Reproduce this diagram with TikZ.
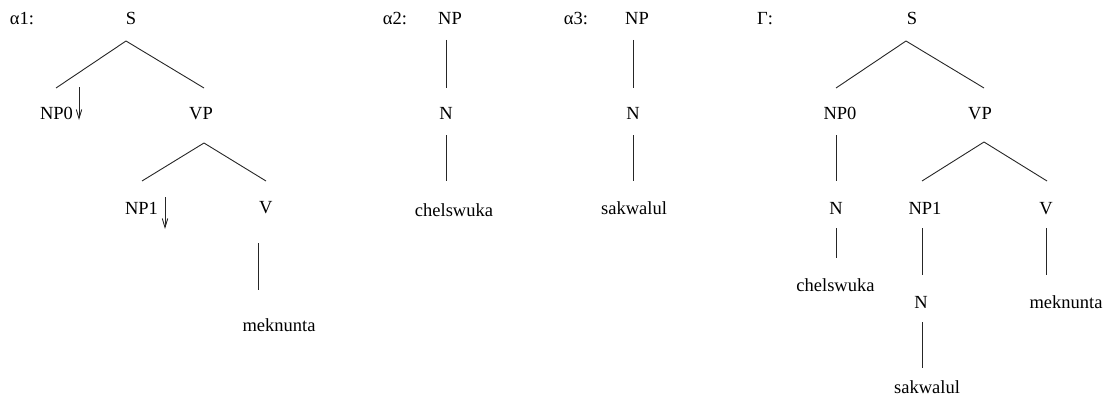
\documentclass[tikz,border=0pt]{standalone}
\usepackage{fontspec}
\setmainfont{Liberation Serif}
\usetikzlibrary{calc,arrows.meta}
\begin{document}
\begin{tikzpicture}[x=1pt,y=-1pt,
  lbl/.style={inner sep=0pt,text height=12pt,text depth=0pt,anchor=center,font=\fontsize{18.5}{20}\selectfont},
  br/.style={line width=0.9pt,draw=black!85},
  subst/.style={line width=0.9pt,draw=black!85,-{Straight Barb[length=9pt,width=5.5pt]}}]
\useasboundingbox (0,0) rectangle (1107,404);
% alpha1
\node[lbl] (a1l) at (22,19) {α1:};
\node[lbl] (S1) at (131,19) {S};
\node[lbl] (NP0a) at (56.5,113) {NP0};
\node[lbl] (VPa) at (201,113) {VP};
\node[lbl] (NP1a) at (141.5,208) {NP1};
\node[lbl] (Va) at (265.7,207) {V};
\node[lbl] (mek1) at (279,325) {meknunta};
\draw[br] ($(S1)+(126-131,41-19)$) -- ($(NP0a)+(56-56.5,88-113)$);
\draw[br] ($(S1)+(126-131,41-19)$) -- ($(VPa)+(204-201,88-113)$);
\draw[br] ($(VPa)+(204-201,143-113)$) -- ($(NP1a)+(142-141.5,181-208)$);
\draw[br] ($(VPa)+(204-201,143-113)$) -- ($(Va)+(266-265.7,181-207)$);
\draw[br] ($(Va)+(258.7-265.7,243-207)$) -- ($(mek1)+(258.7-279,290-325)$);
\draw[subst] ($(NP0a)+(79-56.5,87-113)$) -- ($(NP0a)+(79-56.5,120-113)$);
\draw[subst] ($(NP1a)+(165-141.5,197-208)$) -- ($(NP1a)+(165-141.5,229-208)$);
% alpha2
\node[lbl] (a2l) at (395,19) {α2:};
\node[lbl] (NP2) at (450,19) {NP};
\node[lbl] (N2) at (446,113) {N};
\node[lbl] (chel1) at (454,210) {chelswuka};
\draw[br] ($(NP2)+(446-450,40-19)$) -- ($(N2)+(0,88-113)$);
\draw[br] ($(N2)+(0,135-113)$) -- ($(chel1)+(446-454,181-210)$);
% alpha3
\node[lbl] (a3l) at (576,19) {α3:};
\node[lbl] (NP3) at (637,19) {NP};
\node[lbl] (N3) at (633,113) {N};
\node[lbl] (sak1) at (634,208) {sakwalul};
\draw[br] ($(NP3)+(633-637,40-19)$) -- ($(N3)+(0,88-113)$);
\draw[br] ($(N3)+(0,135-113)$) -- ($(sak1)+(633-634,181-208)$);
% Gamma
\node[lbl] (Gl) at (765,19) {Γ:};
\node[lbl] (S2) at (912,19) {S};
\node[lbl] (NP0b) at (840,113) {NP0};
\node[lbl] (VPb) at (980,113) {VP};
\node[lbl] (Nb1) at (836,208) {N};
\node[lbl] (chel2) at (835.5,285) {chelswuka};
\node[lbl] (NP1b) at (925,208) {NP1};
\node[lbl] (Vb) at (1046,208) {V};
\node[lbl] (Nb2) at (921,302) {N};
\node[lbl] (mek2) at (1066,302) {meknunta};
\node[lbl] (sak2) at (927,387) {sakwalul};
\draw[br] ($(S2)+(906-912,41-19)$) -- ($(NP0b)+(836-840,88-113)$);
\draw[br] ($(S2)+(906-912,41-19)$) -- ($(VPb)+(984-980,88-113)$);
\draw[br] ($(NP0b)+(836-840,135-113)$) -- ($(Nb1)+(0,181-208)$);
\draw[br] ($(Nb1)+(0,228-208)$) -- ($(chel2)+(836-835.5,258-285)$);
\draw[br] ($(VPb)+(984-980,142-113)$) -- ($(NP1b)+(922-925,181-208)$);
\draw[br] ($(VPb)+(984-980,142-113)$) -- ($(Vb)+(1047-1046,181-208)$);
\draw[br] ($(NP1b)+(922-925,228-208)$) -- ($(Nb2)+(922-921,275-302)$);
\draw[br] ($(Vb)+(0,228-208)$) -- ($(mek2)+(1046-1066,275-302)$);
\draw[br] ($(Nb2)+(922-921,322-302)$) -- ($(sak2)+(922-927,368-387)$);
\end{tikzpicture}
\end{document}
